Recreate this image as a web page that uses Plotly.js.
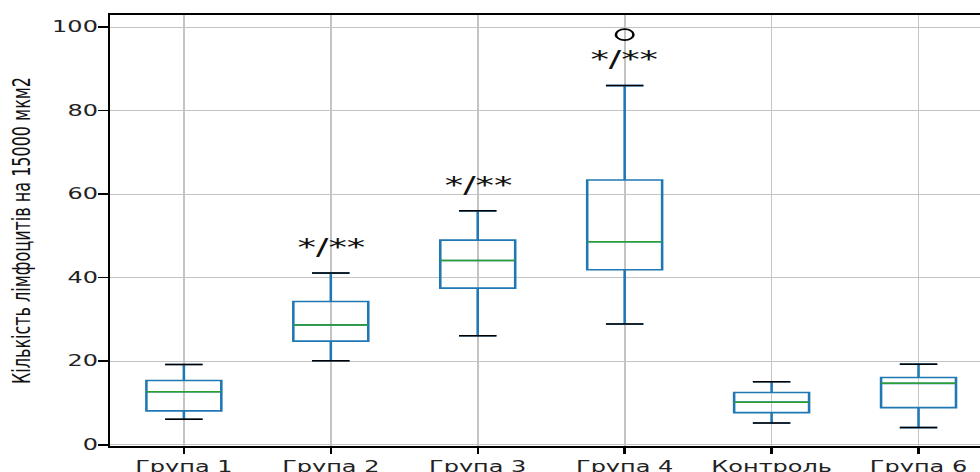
<!DOCTYPE html>
<html>
<head>
<meta charset="utf-8">
<script src="https://cdn.plot.ly/plotly-3.0.1.min.js"></script>
<style>
html, body { margin: 0; padding: 0; overflow: hidden; width: 980px; height: 472px; background: #fff; }
#chart { width: 620px; height: 472px; transform: scaleX(1.6); transform-origin: 0 0; }
</style>
</head>
<body>
<div id="chart"></div>
<script>
// ---- data ----
const categories = ['Група 1', 'Група 2', 'Група 3', 'Група 4', 'Контроль', 'Група 6'];
const lowerWhisker = [6.1, 20.1, 26.1, 28.9, 5.2, 4.1];
const q1 = [8.1, 24.8, 37.5, 41.9, 7.7, 8.9];
const median = [12.7, 28.7, 44.1, 48.6, 10.2, 14.7];
const q3 = [15.4, 34.3, 49.0, 63.4, 12.5, 16.1];
const upperWhisker = [19.2, 41.1, 56.0, 86.0, 15.1, 19.3];
const outlierCategories = ['Група 4'];
const outlierValues = [98.2];
const sigCategories = ['Група 2', 'Група 3', 'Група 4'];
const sigLabels = ['*/**', '*/**', '*/**'];
const yTickValues = [0, 20, 40, 60, 80, 100];

// ---- geometry / style ----
const W = 620, H = 472;
const margin = { l: 69, r: 0, t: 15, b: 26 };
const boxFrac = 0.51;
const plotW = W - margin.l - margin.r;
const boxPx = plotW / categories.length * boxFrac;
const medianSize = boxPx / 1.4;
const capSize = boxPx * 0.5 / 1.4;
const blue = '#1f77b4', green = '#2ca02c';

const traces = [
  {
    type: 'box',
    x: categories,
    q1: q1, median: median, q3: q3,
    lowerfence: lowerWhisker, upperfence: upperWhisker,
    boxpoints: false,
    width: boxFrac,
    line: { color: blue, width: 1.6 },
    fillcolor: 'rgba(0,0,0,0)',
    whiskerwidth: 0.5,
    hoverinfo: 'skip',
    showlegend: false
  },
  {
    type: 'scatter', mode: 'markers',
    x: categories, y: median,
    marker: { symbol: 'line-ew', size: medianSize, color: green, line: { color: green, width: 1.5 } },
    hoverinfo: 'skip', showlegend: false
  },
  {
    type: 'scatter', mode: 'markers',
    x: categories.concat(categories), y: lowerWhisker.concat(upperWhisker),
    marker: { symbol: 'line-ew', size: capSize, color: '#000', line: { color: '#000', width: 1.5 } },
    hoverinfo: 'skip', showlegend: false
  },
  {
    type: 'scatter', mode: 'markers',
    x: outlierCategories, y: outlierValues,
    marker: { symbol: 'circle-open', size: 11, color: '#000', line: { color: '#000', width: 1.6 } },
    hoverinfo: 'skip', showlegend: false
  }
];

const sigAnnotations = sigCategories.map((c, i) => ({
  x: c,
  y: upperWhisker[categories.indexOf(c)] + 6.3,
  text: sigLabels[i],
  showarrow: false,
  xanchor: 'center', yanchor: 'middle',
  font: { family: 'DejaVu Sans', size: 23, color: '#111' }
}));

const layout = {
  width: W, height: H,
  margin: margin,
  paper_bgcolor: '#fff', plot_bgcolor: '#fff',
  font: { family: 'DejaVu Sans', color: '#222' },
  xaxis: {
    type: 'category',
    range: [-0.5, categories.length - 0.5],
    showgrid: true, gridcolor: '#c4c4c4', gridwidth: 1.1,
    ticks: 'outside', ticklen: 6, tickwidth: 1.5, tickcolor: '#000',
    showline: true, linecolor: '#000', linewidth: 1.8, mirror: true,
    tickfont: { family: 'DejaVu Sans', size: 15, color: '#222' },
    zeroline: false, fixedrange: true
  },
  yaxis: {
    range: [-0.3, 102.9],
    tickvals: yTickValues,
    showgrid: true, gridcolor: '#c4c4c4', gridwidth: 1.2,
    ticks: 'outside', ticklen: 6, tickwidth: 1.5, tickcolor: '#000',
    ticklabelstandoff: -3,
    showline: true, linecolor: '#000', linewidth: 1.8, mirror: true,
    tickfont: { family: 'DejaVu Sans', size: 15, color: '#222' },
    zeroline: false, fixedrange: true,
    title: { text: 'Кількість лімфоцитів на 15000 мкм2', standoff: 9,
             font: { family: 'DejaVu Sans', size: 16, color: '#111' } }
  },
  annotations: sigAnnotations
};

Plotly.newPlot('chart', traces, layout, { displayModeBar: false, staticPlot: true });
</script>
</body>
</html>
